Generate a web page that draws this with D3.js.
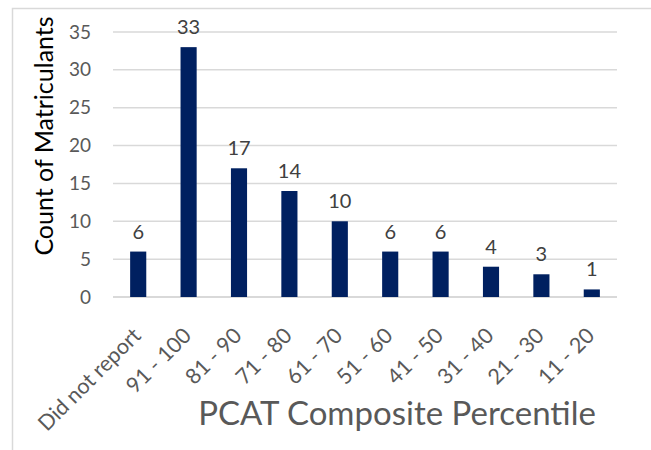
<!DOCTYPE html>
<html>
<head>
<meta charset="utf-8">
<script src="https://d3js.org/d3.v7.min.js"></script>
<style>
  body { margin: 0; background: #fff; }
  text { font-family: Lato, "Open Sans", sans-serif; }
</style>
</head>
<body>
<script>
  // chart data
  var categories = ["Did not report", "91 - 100", "81 - 90", "71 - 80", "61 - 70",
                    "51 - 60", "41 - 50", "31 - 40", "21 - 30", "11 - 20"];
  var counts = [6, 33, 17, 14, 10, 6, 6, 4, 3, 1];
  var yTicks = [0, 5, 10, 15, 20, 25, 30, 35];

  var width = 651, height = 450;
  var plot = {left: 113, right: 617, top: 32, bottom: 297};

  var svg = d3.select("body").append("svg")
      .attr("width", width)
      .attr("height", height);

  // chart area border (only top and left visible)
  svg.append("path")
      .attr("d", "M12.5,450 L12.5,8.5 L651,8.5")
      .attr("fill", "none")
      .attr("stroke", "#d9d9d9")
      .attr("stroke-width", 1.5);

  var x = d3.scaleBand()
      .domain(categories)
      .range([plot.left, plot.right])
      .paddingInner(0.68)
      .paddingOuter(0.34);

  var y = d3.scaleLinear()
      .domain([0, 35])
      .range([plot.bottom, plot.top]);

  // gridlines
  svg.append("g")
    .selectAll("line")
    .data(yTicks)
    .enter().append("line")
      .attr("x1", plot.left)
      .attr("x2", plot.right)
      .attr("y1", function(d) { return y(d); })
      .attr("y2", function(d) { return y(d); })
      .attr("stroke", "#d9d9d9")
      .attr("stroke-width", function(d) { return d === 0 ? 2 : 1.5; });

  // y axis labels
  var yAxis = d3.axisLeft(y).tickValues(yTicks).tickSize(0).tickPadding(0);
  var gy = svg.append("g")
      .attr("transform", "translate(91,0)")
      .call(yAxis);
  gy.select(".domain").remove();
  gy.selectAll("text")
      .style("font-size", "19px")
      .attr("fill", "#595959")
      .attr("font-family", "Lato, sans-serif");

  // bars
  svg.append("g")
    .selectAll("rect")
    .data(counts)
    .enter().append("rect")
      .attr("x", function(d, i) { return x(categories[i]); })
      .attr("y", function(d) { return y(d); })
      .attr("width", x.bandwidth())
      .attr("height", function(d) { return y(0) - y(d); })
      .attr("fill", "#002060");

  // value labels
  svg.append("g")
    .selectAll("text")
    .data(counts)
    .enter().append("text")
      .attr("x", function(d, i) { return x(categories[i]) + x.bandwidth() / 2; })
      .attr("y", function(d) { return y(d) - 13; })
      .attr("text-anchor", "middle")
      .style("font-size", "20px")
      .attr("fill", "#404040")
      .text(function(d) { return d; });

  // x axis labels, rotated
  var xAxis = d3.axisBottom(x).tickSize(0).tickPadding(0);
  var gx = svg.append("g")
      .attr("transform", "translate(0," + plot.bottom + ")")
      .call(xAxis);
  gx.select(".domain").remove();
  gx.selectAll("text")
      .attr("font-family", "Lato, sans-serif")
      .style("font-size", "21.5px")
      .attr("fill", "#595959")
      .attr("text-anchor", "end")
      .attr("dy", "0")
      .attr("y", 0)
      .attr("transform", "translate(4,40) rotate(-45)");

  // axis titles
  svg.append("text")
      .attr("transform", "translate(53,136) rotate(-90)")
      .attr("text-anchor", "middle")
      .style("font-size", "25px")
      .attr("fill", "#000")
      .text("Count of Matriculants");

  svg.append("text")
      .attr("x", 397)
      .attr("y", 425)
      .attr("text-anchor", "middle")
      .style("font-size", "33px")
      .attr("fill", "#595959")
      .text("PCAT Composite Percentile");
</script>
</body>
</html>
